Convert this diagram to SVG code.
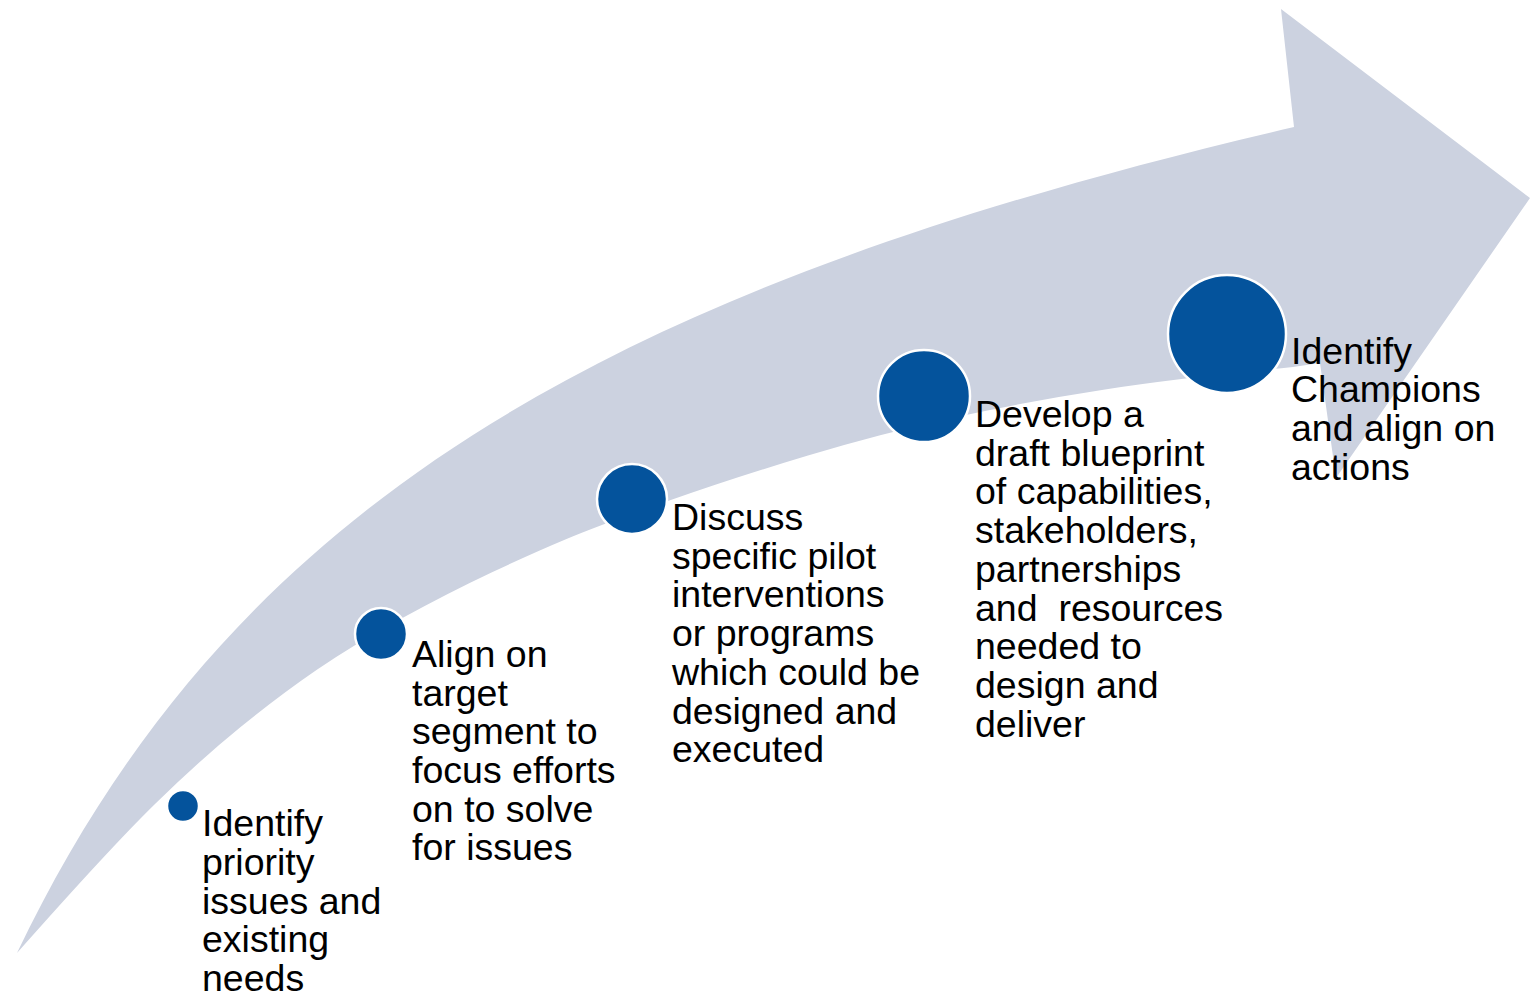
<svg xmlns="http://www.w3.org/2000/svg" width="1537" height="1001" viewBox="0 0 1537 1001">
  <style>
    .band { fill: #CCD2E0; stroke: none; }
    .dot { fill: #04539C; stroke: #FFFFFF; stroke-width: 2.5; }
    .label { font-family: "Liberation Sans", Arial, sans-serif; font-size: 37.5px; fill: #000000; }
  </style>

  <rect x="0" y="0" width="1537" height="1001" fill="#FFFFFF"/>

  <!-- Curved progress arrow behind the steps -->
  <g id="progress-arrow">
    <path class="band" d="M17,953 C228,512 593,290 1294,127 L1281,9 L1530,198 L1336,478 L1320,363 L1293,367
      Q1180,378 1105,389.5 Q1030,401 956.5,417 Q883,433 808,455.5 Q733,478 666.5,501.5
      Q600,525 566.5,539 Q533,553 491.5,572.5 Q450,592 401.5,618.5 Q353,645 316.5,670
      Q280,695 240,727.5 Q200,760 155,804 Q110,848 17,953 Z"/>
  </g>

  <!-- Steps along the arrow -->
  <g id="step-1">
    <circle class="dot" cx="183" cy="806" r="16"/>
    <text class="label">
      <tspan x="202" y="836">Identify</tspan>
      <tspan x="202" y="875">priority</tspan>
      <tspan x="202" y="914">issues and</tspan>
      <tspan x="202" y="952">existing</tspan>
      <tspan x="202" y="991">needs</tspan>
    </text>
  </g>

  <g id="step-2">
    <circle class="dot" cx="381" cy="634" r="26"/>
    <text class="label">
      <tspan x="412" y="667">Align on</tspan>
      <tspan x="412" y="705.5">target</tspan>
      <tspan x="412" y="744">segment to</tspan>
      <tspan x="412" y="783">focus efforts</tspan>
      <tspan x="412" y="821.5">on to solve</tspan>
      <tspan x="412" y="860">for issues</tspan>
    </text>
  </g>

  <g id="step-3">
    <circle class="dot" cx="632" cy="499" r="35"/>
    <text class="label">
      <tspan x="672" y="530">Discuss</tspan>
      <tspan x="672" y="568.7">specific pilot</tspan>
      <tspan x="672" y="607.4">interventions</tspan>
      <tspan x="672" y="646">or programs</tspan>
      <tspan x="672" y="684.8">which could be</tspan>
      <tspan x="672" y="723.5">designed and</tspan>
      <tspan x="672" y="762">executed</tspan>
    </text>
  </g>

  <g id="step-4">
    <circle class="dot" cx="924" cy="396" r="46"/>
    <text class="label" xml:space="preserve">
      <tspan x="975" y="427">Develop a</tspan>
      <tspan x="975" y="465.7">draft blueprint</tspan>
      <tspan x="975" y="504.4">of capabilities,</tspan>
      <tspan x="975" y="543">stakeholders,</tspan>
      <tspan x="975" y="581.8">partnerships</tspan>
      <tspan x="975" y="620.5">and  resources</tspan>
      <tspan x="975" y="659">needed to</tspan>
      <tspan x="975" y="698">design and</tspan>
      <tspan x="975" y="736.7">deliver</tspan>
    </text>
  </g>

  <g id="step-5">
    <circle class="dot" cx="1227" cy="334" r="59"/>
    <text class="label">
      <tspan x="1291" y="363.5">Identify</tspan>
      <tspan x="1291" y="402">Champions</tspan>
      <tspan x="1291" y="441">and align on</tspan>
      <tspan x="1291" y="479.5">actions</tspan>
    </text>
  </g>

  <!-- No connectors: the steps sit on the arrow band -->
  <g id="connectors"/>
</svg>
